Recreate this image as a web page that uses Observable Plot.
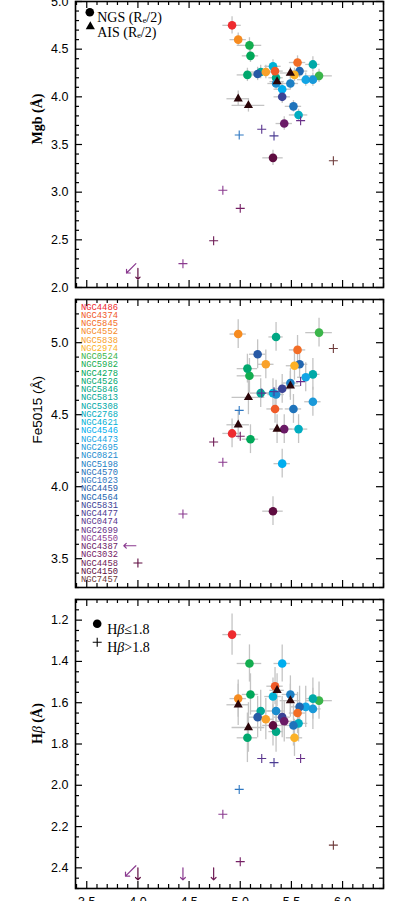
<!DOCTYPE html>
<html><head><meta charset="utf-8">
<script src="https://cdn.jsdelivr.net/npm/d3@7"></script>
<script src="https://cdn.jsdelivr.net/npm/@observablehq/plot@0.6"></script>
<style>
body{margin:0;background:#fff;}
#wrap{position:relative;width:406px;height:901px;overflow:hidden;background:#fff;}
#wrap svg{display:block;}
#leg{position:absolute;left:81px;top:303.5px;font-family:"Liberation Mono",monospace;font-size:8.8px;line-height:8.26px;white-space:pre;}
</style></head><body><div id="wrap"></div><script>
// ---- legend names / colours (panel 2) ----
const names = ["NGC4486","NGC4374","NGC5845","NGC4552","NGC5838","NGC2974","NGC0524","NGC5982","NGC4278","NGC4526","NGC5846","NGC5813","NGC5308","NGC2768","NGC4621","NGC4546","NGC4473","NGC2695","NGC0821","NGC5198","NGC4570","NGC1023","NGC4459","NGC4564","NGC5831","NGC4477","NGC0474","NGC2699","NGC4550","NGC4387","NGC3032","NGC4458","NGC4150","NGC7457"];
const colors = ["#ee2b2f","#f05a28","#f36d25","#f68b1f","#f9a12a","#fcb126","#3bb54a","#13ad4f","#00a859","#00a86e","#00a784","#00a896","#00a9a8","#00adc0","#00b1d6","#00aeef","#13a5e5","#1a99d9","#1c8dcf","#1d80c5","#1f73bb","#2f78c2","#2759a5","#2166b0","#3b4396","#4b3c93","#5a368e","#682f88","#8a3a8f","#6a1a66","#752065","#6e1b55","#5e0c40","#6e3a3a"];

// ---- NGS sample ----
const ngsName = ["NGC4486","NGC4552","NGC5982","NGC4278","NGC4526","NGC0524","NGC5846","NGC5813","NGC5308","NGC2768","NGC4621","NGC4546","NGC4473","NGC2695","NGC0821","NGC5198","NGC4570","NGC4564","NGC4459","NGC4374","NGC5845","NGC5838","NGC2974","NGC5831","NGC4387","NGC4150",
  "NGC1023","NGC4477","NGC0474","NGC2699","NGC4550","NGC3032","NGC4458","NGC4550","NGC7457","NGC4150","NGC4550"];
const ngsX    = [4.92,4.98,5.09,5.10,5.07,5.77,5.35,5.20,5.71,5.57,5.32,5.41,5.64,5.71,5.35,5.49,5.52,5.58,5.17,5.34,5.56,5.25,5.53,5.41,5.43,5.32, 4.99,5.33,5.21,5.59,4.83,5.00,4.74,4.44,5.91,4.00,3.98];
const ngsXErr = [0.09,0.08,0.12,0.08,0.10,0.13,0.07,0.10,0.07,0.09,0.08,0.08,0.08,0.08,0.08,0.08,0.08,0.08,0.08,0.08,0.08,0.08,0.08,0.08,0.08,0.10, 0,0,0,0,0,0,0,0,0,0,0];
const ngsMgb    = [4.75,4.60,4.54,4.43,4.23,4.22,4.20,4.26,4.34,3.81,4.32,4.08,4.18,4.18,4.14,4.14,3.90,4.27,4.24,4.27,4.36,4.26,4.23,4.00,3.72,3.36, 3.60,3.59,3.66,3.75,3.02,2.83,2.49,2.25,3.33,2.20,2.25];
const ngsMgbErr = [0.09,0.07,0.08,0.07,0.07,0.07,0.07,0.07,0.08,0.06,0.07,0.07,0.07,0.07,0.07,0.07,0.06,0.07,0.07,0.07,0.07,0.07,0.07,0.07,0.07,0.08, 0,0,0,0,0,0,0,0,0,0,0];
const ngsMgbLim = ["","","","","","","","","","","","","","","","","","","","","","","","","","", "","","","","","","","","","down","diag"];
const ngsFe    = [4.37,5.06,4.77,4.33,4.82,5.07,5.04,4.65,4.78,4.40,4.65,4.16,4.76,4.59,4.64,4.72,4.54,4.85,4.92,4.54,4.95,4.85,4.84,4.68,4.40,3.83, 4.53,4.66,4.65,4.73,4.17,4.35,4.31,3.81,4.96,3.47,3.59];
const ngsFeErr = [0.10,0.10,0.12,0.10,0.10,0.10,0.10,0.10,0.11,0.10,0.10,0.10,0.10,0.10,0.10,0.10,0.10,0.10,0.10,0.10,0.10,0.10,0.10,0.10,0.10,0.10, 0,0,0,0,0,0,0,0,0,0,0];
const ngsFeLim = ["","","","","","","","","","","","","","","","","","","","","","","","","","", "","","","","","","","","","","left"];
const ngsHb    = [1.27,1.58,1.41,1.56,1.77,1.59,1.74,1.64,1.58,1.70,1.57,1.41,1.62,1.63,1.64,1.56,1.71,1.62,1.67,1.52,1.65,1.68,1.77,1.67,1.69,1.71, 2.02,1.89,1.87,1.87,2.14,2.37,2.40,2.40,2.29,2.40,2.39];
const ngsHbErr = [0.10,0.09,0.09,0.10,0.12,0.09,0.10,0.10,0.10,0.09,0.09,0.09,0.10,0.10,0.10,0.09,0.10,0.10,0.10,0.09,0.10,0.10,0.09,0.10,0.10,0.10, 0,0,0,0,0,0,0,0,0,0,0];
const ngsHbLim = ["","","","","","","","","","","","","","","","","","","","","","","","","","", "","","","","","","down","down","","down","diag"];

// ---- AIS sample ----
const aisX = [4.98,5.08,5.36,5.49];
const aisXErr = [0.11,0.16,0.07,0.10];
const aisMgb = [3.98,3.91,4.16,4.25];
const aisMgbErr = [0.08,0.07,0.06,0.06];
const aisFe = [4.43,4.62,4.40,4.70];
const aisFeErr = [0.10,0.12,0.10,0.10];
const aisHb = [1.61,1.72,1.54,1.59];
const aisHbErr = [0.10,0.12,0.08,0.08];

// ---- ticks ----
const xDomain = [3.39,6.40];
const xMajor = [3.5,4.0,4.5,5.0,5.5,6.0];
const xMinor = d3.range(34,65).map(i=>i/10).filter(v=>!xMajor.some(m=>Math.abs(m-v)<1e-6));
const mgbMajor = [2.0,2.5,3.0,3.5,4.0,4.5,5.0];
const feMajor = [3.5,4.0,4.5,5.0];
const hbMajor = [1.2,1.4,1.6,1.8,2.0,2.2,2.4];
const minorOf = (a,b,step,maj)=>d3.range(Math.round(a/step),Math.round(b/step)+1).map(i=>+(i*step).toFixed(3)).filter(v=>!maj.some(m=>Math.abs(m-v)<1e-6));

const colorOf = new Map(names.map((n,i)=>[n,colors[i]]));
const rot = {down:180,left:270,diag:225};
const W = 406, ML = 75, MR = 23;

const panels = [
  {label:"Mgb (Å)", lf:"Liberation Serif", lw:"bold", ls:14, domain:[2.0,5.0], reverse:false, major:mgbMajor, minor:minorOf(2.0,5.0,0.1,mgbMajor), h:293, mt:1, mb:6, v:ngsMgb, e:ngsMgbErr, l:ngsMgbLim, av:aisMgb, ae:aisMgbErr, showX:false, legend:"sample"},
  {label:"Fe5015 (Å)", lf:"Liberation Sans", lw:"normal", ls:13.5, domain:[3.3,5.3], reverse:false, major:feMajor, minor:minorOf(3.3,5.3,0.1,feMajor), h:300, mt:6, mb:6, v:ngsFe, e:ngsFeErr, l:ngsFeLim, av:aisFe, ae:aisFeErr, showX:false, legend:"names"},
  {label:"Hβ (Å)", lf:"Liberation Serif", lw:"bold", ls:14, domain:[1.1,2.5], reverse:true, major:hbMajor, minor:minorOf(1.1,2.5,0.05,hbMajor), h:308, mt:6, mb:13, v:ngsHb, e:ngsHbErr, l:ngsHbLim, av:aisHb, ae:aisHbErr, showX:true, legend:"hb"}
];

const wrap = document.getElementById("wrap");
for (const p of panels) {
  const pts = ngsName.map((n,i)=>({color:colorOf.get(n), x:ngsX[i], xe:ngsXErr[i], y:p.v[i], ye:p.e[i], lim:p.l[i], plus:ngsHb[i]>1.8}));
  const circles = pts.filter(d=>!d.lim && !d.plus);
  const pluses = pts.filter(d=>!d.lim && d.plus);
  const arrows = pts.filter(d=>d.lim);
  const ais = aisX.map((x,i)=>({x, xe:aisXErr[i], y:p.av[i], ye:p.ae[i]}));
  const errs = [...circles, ...ais];
  const iH = p.h - p.mt - p.mb, iW = W - ML - MR;
  // pixel lengths of tick marks expressed in data units of each scale
  const kx = (xDomain[1]-xDomain[0])/iW, ky = (p.domain[1]-p.domain[0])/iH;
  const yBot = p.reverse ? p.domain[1] : p.domain[0];
  const yTop = p.reverse ? p.domain[0] : p.domain[1];
  const up = p.reverse ? -1 : 1;
  const tk = {stroke:"black", strokeWidth:1.2};
  const xt = (vals, len) => [
    Plot.ruleX(vals, {x:d=>d, y1:()=>yBot, y2:()=>yBot+up*len*ky, ...tk}),
    Plot.ruleX(vals, {x:d=>d, y1:()=>yTop, y2:()=>yTop-up*len*ky, ...tk})
  ];
  const yt = (vals, len) => [
    Plot.ruleY(vals, {y:d=>d, x1:()=>xDomain[0], x2:()=>xDomain[0]+len*kx, ...tk}),
    Plot.ruleY(vals, {y:d=>d, x1:()=>xDomain[1], x2:()=>xDomain[1]-len*kx, ...tk})
  ];
  const marks = [
    Plot.ruleY(errs, {y:"y", x1:d=>d.x-d.xe, x2:d=>d.x+d.xe, stroke:"#c4c4c4", strokeWidth:1.3}),
    Plot.ruleX(errs, {x:"x", y1:d=>d.y-d.ye, y2:d=>d.y+d.ye, stroke:"#c4c4c4", strokeWidth:1.3}),
    Plot.dot(circles, {x:"x", y:"y", r:4.3, fill:"color"}),
    Plot.dot(pluses, {x:"x", y:"y", symbol:"plus", r:3.0, stroke:"color", strokeWidth:1.1}),
    Plot.vector(arrows, {x:"x", y:"y", rotate:d=>rot[d.lim], length:d=>d.lim==="diag"?11:9, anchor:"start", stroke:"color", strokeWidth:1.2}),
    Plot.dot(ais, {x:"x", y:"y", symbol:"triangle", r:3.4, fill:"#2b0509"}),
    ...xt(xMajor, 7), ...xt(xMinor, 4),
    ...yt(p.major, 7), ...yt(p.minor, 4),
    Plot.frame({stroke:"black", strokeWidth:1.6}),
    Plot.axisY({ticks:p.major, tickSize:0, tickPadding:7, tickFormat:d=>d.toFixed(1), label:null}),
    Plot.text([p.label], {text:d=>d, frameAnchor:"left", rotate:-90, dx:-38, fontFamily:p.lf, fontWeight:p.lw, fontSize:p.ls, fill:"black"})
  ];
  if (p.showX) marks.push(Plot.axisX({ticks:xMajor, tickSize:0, tickPadding:9, tickFormat:d=>d.toFixed(1), label:null}));
  const sf = {fontFamily:"Liberation Serif", fontSize:14, textAnchor:"start", fill:"black"};
  if (p.legend==="sample") {
    marks.push(
      Plot.dot([0], {frameAnchor:"top-left", dx:14.3, dy:10.7, r:4.3, fill:"black"}),
      Plot.dot([0], {frameAnchor:"top-left", dx:14.8, dy:25, symbol:"triangle", r:3.4, fill:"black"}),
      Plot.text(["NGS (Rₑ/2)"], {text:d=>d, frameAnchor:"top-left", dx:21.7, dy:11, ...sf}),
      Plot.text(["AIS (Rₑ/2)"], {text:d=>d, frameAnchor:"top-left", dx:21.7, dy:25.3, ...sf})
    );
  }
  if (p.legend==="hb") {
    marks.push(
      Plot.dot([0], {frameAnchor:"top-left", dx:21.7, dy:24.3, r:4.3, fill:"black"}),
      Plot.dot([0], {frameAnchor:"top-left", dx:21.7, dy:42.7, symbol:"plus", r:3.0, stroke:"black", strokeWidth:1.1}),
      Plot.text(["Hβ≤1.8"], {text:d=>d, frameAnchor:"top-left", dx:31.7, dy:24.3, ...sf}),
      Plot.text(["Hβ>1.8"], {text:d=>d, frameAnchor:"top-left", dx:31.7, dy:42.7, ...sf})
    );
  }
  const svg = Plot.plot({
    width:W, height:p.h, marginLeft:ML, marginRight:MR, marginTop:p.mt, marginBottom:p.mb,
    x:{domain:xDomain, axis:p.showX?undefined:null},
    y:{domain:p.domain, reverse:p.reverse},
    style:{fontFamily:"Liberation Sans, Arial, sans-serif", fontSize:"12.5px", color:"black", background:"white"},
    marks
  });
  d3.select(svg).selectAll("text").each(function(){
    const t = this.textContent;
    if (t.includes("β") && this.children.length===0) {
      const [a,b] = t.split("β");
      this.textContent = "";
      const s = d3.select(this);
      s.append("tspan").text(a);
      s.append("tspan").attr("font-style","italic").attr("font-weight","normal").text("β");
      s.append("tspan").text(b);
    }
  });
  wrap.appendChild(svg);
}
// names legend inside panel 2
const leg = document.createElement("div");
leg.id = "leg";
names.forEach((n,i)=>{ const d=document.createElement("div"); d.textContent=n; d.style.color=colors[i]; leg.appendChild(d); });
wrap.appendChild(leg);
</script></body></html>
